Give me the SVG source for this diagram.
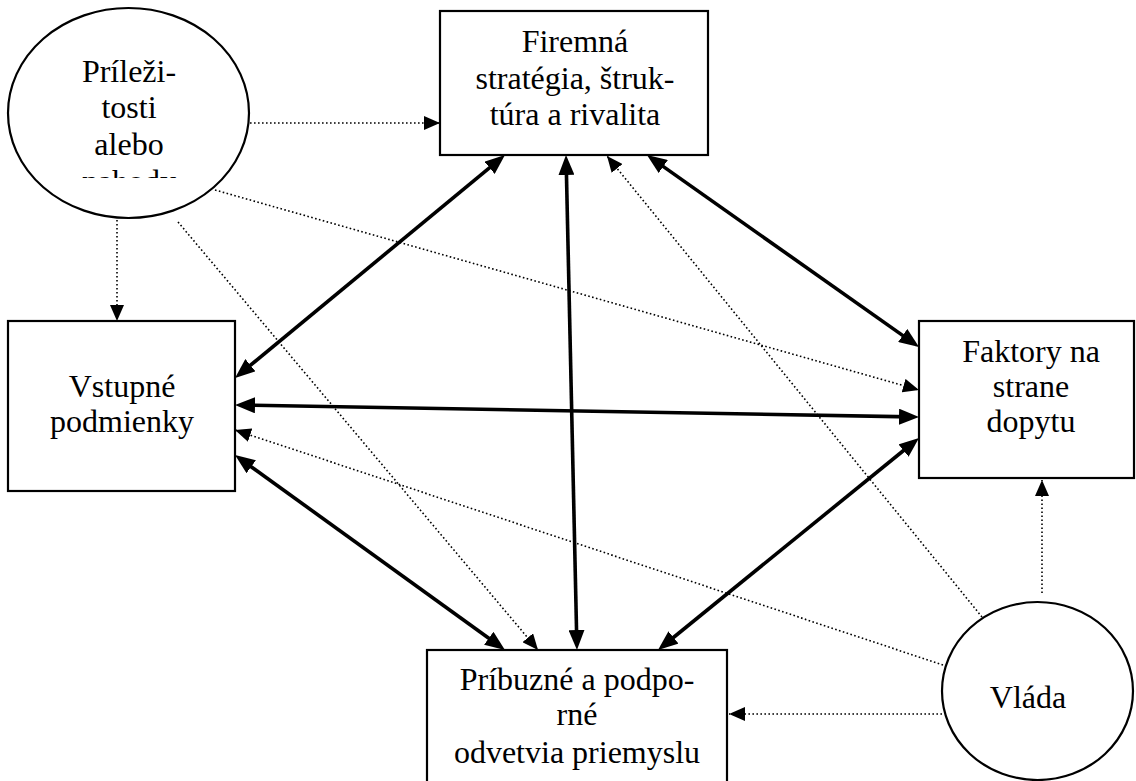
<svg xmlns="http://www.w3.org/2000/svg" width="1136" height="781" viewBox="0 0 1136 781">
<style>
text{font-family:"Liberation Serif","Times New Roman",serif;font-size:32px;fill:#000;text-anchor:middle}
.box{fill:#fff;stroke:#000;stroke-width:2.2}
.thick{stroke:#000;stroke-width:3.6;fill:none;marker-start:url(#ah);marker-end:url(#ah)}
.dot{stroke:#000;stroke-width:1.6;fill:none;stroke-dasharray:1.6 2.4;marker-end:url(#ad)}
</style>
<defs>
<marker id="ah" viewBox="0 0 20 16" refX="12" refY="8" markerWidth="20" markerHeight="16" markerUnits="userSpaceOnUse" orient="auto-start-reverse">
<path d="M0,0 L20,8 L0,16 z" fill="#000"/>
</marker>
<marker id="ad" viewBox="0 0 16 14" refX="16" refY="7" markerWidth="16" markerHeight="14" markerUnits="userSpaceOnUse" orient="auto">
<path d="M0,0 L16,7 L0,14 z" fill="#000"/>
</marker>
<clipPath id="clipP"><rect x="20" y="30" width="220" height="148"/></clipPath>
</defs>
<rect width="1136" height="781" fill="#fff"/>

<g id="prilezitosti">
<ellipse class="box" cx="128.5" cy="113" rx="120.5" ry="105"/>
<g clip-path="url(#clipP)">
<text x="129" y="82">Príleži-</text>
<text x="129" y="118">tosti</text>
<text x="129" y="155">alebo</text>
<text x="129" y="192">nahody</text>
</g>
</g>

<g id="firemna">
<rect class="box" x="440" y="11" width="268" height="144"/>
<text x="575" y="52">Firemná</text>
<text x="575" y="89">stratégia, štruk-</text>
<text x="575" y="125">túra a rivalita</text>
</g>

<g id="vstupne">
<rect class="box" x="8" y="321" width="227" height="170"/>
<text x="122" y="397">Vstupné</text>
<text x="122" y="432">podmienky</text>
</g>

<g id="faktory">
<rect class="box" x="919" y="321" width="215" height="157"/>
<text x="1031" y="362">Faktory na</text>
<text x="1031" y="397">strane</text>
<text x="1031" y="432">dopytu</text>
</g>

<g id="pribuzne">
<rect class="box" x="427" y="650" width="300" height="160"/>
<text x="577" y="690">Príbuzné a podpo-</text>
<text x="577" y="725">rné</text>
<text x="577" y="763">odvetvia priemyslu</text>
</g>

<g id="vlada">
<ellipse class="box" cx="1037.5" cy="691" rx="95.5" ry="89"/>
<text x="1028" y="708">Vláda</text>
</g>

<g id="connectors">
<line class="thick" x1="498.8" y1="160.1" x2="241.2" y2="372.9"/>
<line class="thick" x1="566.2" y1="163" x2="576.8" y2="642"/>
<line class="thick" x1="653.5" y1="159.6" x2="912.5" y2="342.4"/>
<line class="thick" x1="243" y1="405.1" x2="911" y2="416.9"/>
<line class="thick" x1="241.5" y1="459.7" x2="498.5" y2="645.3"/>
<line class="thick" x1="912.8" y1="443" x2="664.2" y2="645"/>

<line class="dot" x1="250" y1="123" x2="440" y2="123"/>
<line class="dot" x1="117" y1="220" x2="117" y2="321"/>
<line class="dot" x1="215" y1="190" x2="919" y2="390"/>
<line class="dot" x1="178" y1="222" x2="538" y2="650"/>
<line class="dot" x1="982" y1="617" x2="607" y2="156"/>
<line class="dot" x1="943" y1="665" x2="235" y2="430"/>
<line class="dot" x1="942" y1="714" x2="729" y2="714"/>
<line class="dot" x1="1042" y1="593" x2="1042" y2="480"/>
</g>
</svg>
